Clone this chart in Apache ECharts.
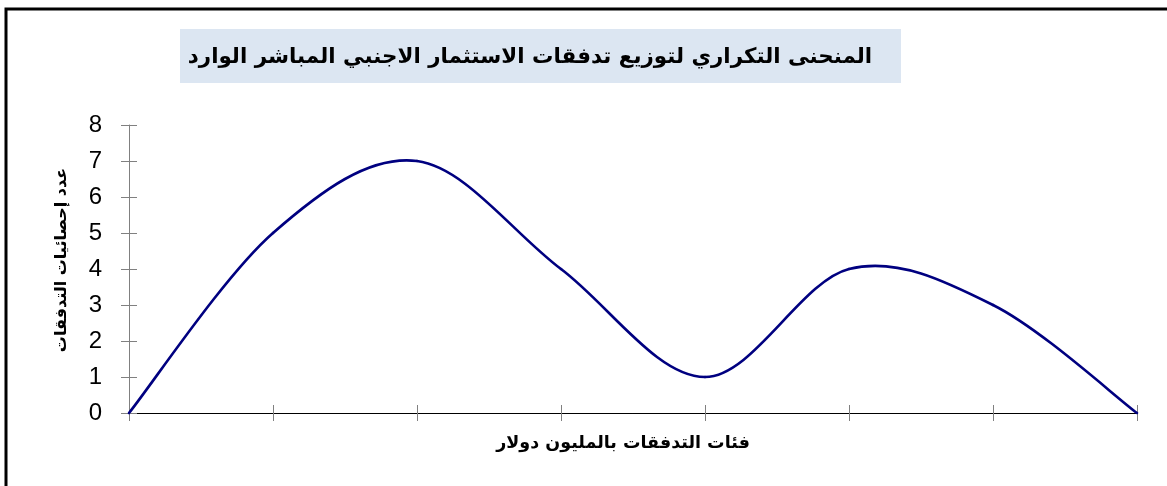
<!DOCTYPE html>
<html>
<head>
<meta charset="utf-8">
<script src="https://cdn.jsdelivr.net/npm/echarts@6/dist/echarts.min.js"></script>
<style>
  html, body { margin: 0; padding: 0; background: #ffffff; }
  #chart { width: 1167px; height: 486px; }
</style>
</head>
<body>
<div id="chart"></div>
<script>
// Frequency curve of inward FDI flows
const titleText = 'المنحنى التكراري لتوزيع تدفقات الاستثمار الاجنبي المباشر الوارد';
const xAxisTitle = 'فئات التدفقات بالمليون دولار';
const yAxisTitle = 'عدد إحصائيات التدفقات';
const classes = ['1', '2', '3', '4', '5', '6', '7', '8'];
const counts = [0, 5, 7, 4, 1, 4, 3, 0];
const yMin = 0, yMax = 8, yStep = 1;

const FONT = '"Liberation Sans", Arial, "DejaVu Sans", sans-serif';
const AR_FONT = '"DejaVu Sans", "Liberation Sans", sans-serif';

const chart = echarts.init(document.getElementById('chart'), null, { renderer: 'canvas' });

const yBase = {
  type: 'value', min: yMin, max: yMax, interval: yStep,
  splitLine: { show: false }
};
const xBase = {
  type: 'category', data: classes, boundaryGap: false,
  axisLabel: { show: false }
};

// Cardinal (Catmull-Rom) smoothing between consecutive points, one cubic per segment
function renderSegment(params, api) {
  const i = params.dataIndex;
  const n = counts.length;
  if (i >= n - 1) return null;
  const pt = k => {
    const j = Math.max(0, Math.min(n - 1, k));
    return api.coord([j, counts[j]]);
  };
  const p0 = pt(i - 1), p1 = pt(i), p2 = pt(i + 1), p3 = pt(i + 2);
  return {
    type: 'bezierCurve',
    shape: {
      x1: p1[0], y1: p1[1],
      cpx1: p1[0] + (p2[0] - p0[0]) / 6, cpy1: p1[1] + (p2[1] - p0[1]) / 6,
      cpx2: p2[0] - (p3[0] - p1[0]) / 6, cpy2: p2[1] - (p3[1] - p1[1]) / 6,
      x2: p2[0], y2: p2[1]
    },
    style: { fill: 'none', stroke: '#000080', lineWidth: 2.6, lineCap: 'round' }
  };
}

chart.setOption({
  backgroundColor: '#ffffff',
  animation: false,
  grid: { left: 129, right: 30, top: 125, bottom: 73 },
  graphic: [
    {
      type: 'rect', silent: true, z: -1,
      shape: { x: 6, y: 9, width: 1170, height: 490 },
      style: { fill: 'none', stroke: '#000000', lineWidth: 3 }
    },
    {
      type: 'rect', silent: true,
      shape: { x: 180, y: 29, width: 721, height: 54 },
      style: { fill: '#dce6f2' }
    },
    {
      type: 'text', silent: true, x: 530, y: 57,
      style: {
        text: titleText, fill: '#000000',
        font: 'bold 21.4px ' + AR_FONT,
        align: 'center', verticalAlign: 'middle'
      }
    }
  ],
  xAxis: [
    Object.assign({}, xBase, {
      name: xAxisTitle, nameLocation: 'middle', nameGap: 21,
      nameTextStyle: { fontFamily: AR_FONT, fontSize: 17.5, fontWeight: 'bold', color: '#000', padding: [0, 20, 0, 0] },
      axisLine: { lineStyle: { color: '#000000', width: 1 } },
      axisTick: { show: true, inside: false, length: 8, lineStyle: { color: '#808080' } }
    }),
    Object.assign({}, xBase, {
      position: 'bottom',
      axisLine: { show: false },
      axisTick: { show: true, inside: true, length: 8, lineStyle: { color: '#808080' } }
    })
  ],
  yAxis: [
    Object.assign({}, yBase, {
      name: yAxisTitle, nameLocation: 'middle', nameGap: 59, nameRotate: 90,
      nameTextStyle: { fontFamily: AR_FONT, fontSize: 16, fontWeight: 'bold', color: '#000', padding: [0, 0, 0, 18] },
      axisLine: { show: true, lineStyle: { color: '#808080', width: 1 } },
      axisTick: { show: true, inside: false, length: 8, lineStyle: { color: '#808080' } },
      axisLabel: { margin: 27, fontFamily: FONT, fontSize: 24, color: '#000000' }
    }),
    Object.assign({}, yBase, {
      position: 'left',
      axisLine: { show: false },
      axisTick: { show: true, inside: true, length: 8, lineStyle: { color: '#808080' } },
      axisLabel: { show: false }
    })
  ],
  series: [{
    type: 'custom',
    coordinateSystem: 'cartesian2d',
    renderItem: renderSegment,
    data: counts.map((v, i) => [i, v]),
    encode: { x: 0, y: 1 },
    clip: false,
    z: 5
  }]
});
</script>
</body>
</html>
